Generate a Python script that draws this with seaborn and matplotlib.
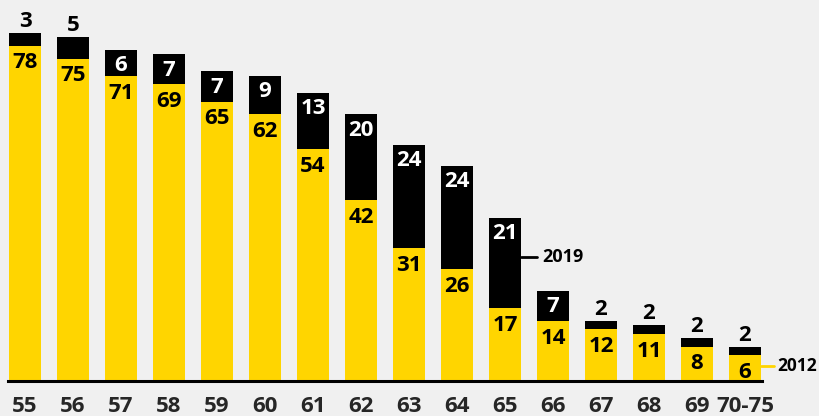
import pandas as pd
import matplotlib
matplotlib.use("Agg")
import matplotlib.pyplot as plt
import seaborn as sns

# Data
categories = ["55", "56", "57", "58", "59", "60", "61", "62", "63", "64",
              "65", "66", "67", "68", "69", "70-75"]
values_2012 = [78, 75, 71, 69, 65, 62, 54, 42, 31, 26, 17, 14, 12, 11, 8, 6]
increase_2019 = [3, 5, 6, 7, 7, 9, 13, 20, 24, 24, 21, 7, 2, 2, 2, 2]

YELLOW = "#FFD500"
BG = "#F0F0F0"

df = pd.DataFrame({
    "age": categories,
    "y2012": values_2012,
    "inc": increase_2019,
})
df["total"] = df["y2012"] + df["inc"]

sns.set_style("white")
plt.rcParams["font.family"] = ["Open Sans", "DejaVu Sans"]
plt.rcParams["font.weight"] = "bold"

fig = plt.figure(figsize=(8.2, 4.16), dpi=100, facecolor=BG)
ax = fig.add_axes([0, 35 / 416, 1, 1 - 35 / 416])
ax.set_facecolor(BG)

sns.barplot(data=df, x="age", y="total", color="black", width=0.667,
            saturation=1, linewidth=0, ax=ax)
sns.barplot(data=df, x="age", y="y2012", color=YELLOW, width=0.667,
            saturation=1, linewidth=0, ax=ax)

ax.set_xlim(-25 / 48, (820 - 25) / 48)
ax.set_ylim(0, 381 / 4.3)

fs = 16
for i, row in df.iterrows():
    # 2012 value inside yellow bar
    ax.annotate(str(row["y2012"]), (i, row["y2012"]), xytext=(0, -12.5),
                textcoords="offset points", ha="center", va="center",
                fontsize=fs, fontweight="bold", color="black")
    # 2019 increase: inside black segment if tall enough, else above
    if row["inc"] >= 6:
        ax.annotate(str(row["inc"]), (i, row["total"]), xytext=(0, -11.5),
                    textcoords="offset points", ha="center", va="center",
                    fontsize=fs, fontweight="bold", color="white")
    else:
        ax.annotate(str(row["inc"]), (i, row["total"]), xytext=(0, 8),
                    textcoords="offset points", ha="center", va="center",
                    fontsize=fs, fontweight="bold", color="black",
                    annotation_clip=False)

# series labels
ax.plot([10.333, 10.667], [28.8, 28.8], color="black", lw=2, clip_on=False)
ax.text(10.77, 28.8, "2019", ha="left", va="center", fontsize=13,
        fontweight="bold", color="black", clip_on=False)
ax.plot([15.333, 15.6], [3.5, 3.5], color=YELLOW, lw=2, clip_on=False)
ax.text(15.68, 3.5, "2012", ha="left", va="center", fontsize=12.5,
        fontweight="bold", color="black", clip_on=False)

for s in ["top", "left", "right"]:
    ax.spines[s].set_visible(False)
ax.spines["bottom"].set_bounds(-0.35, 15.35)
ax.spines["bottom"].set_linewidth(2.2)
ax.spines["bottom"].set_color("black")
ax.spines["bottom"].set_zorder(5)

ax.set_yticks([])
ax.set_xlabel("")
ax.set_ylabel("")
ax.tick_params(axis="x", length=0, pad=11, labelsize=fs)
for lbl in ax.get_xticklabels():
    lbl.set_fontweight("bold")

fig.savefig("out.png", dpi=100, facecolor=BG)
